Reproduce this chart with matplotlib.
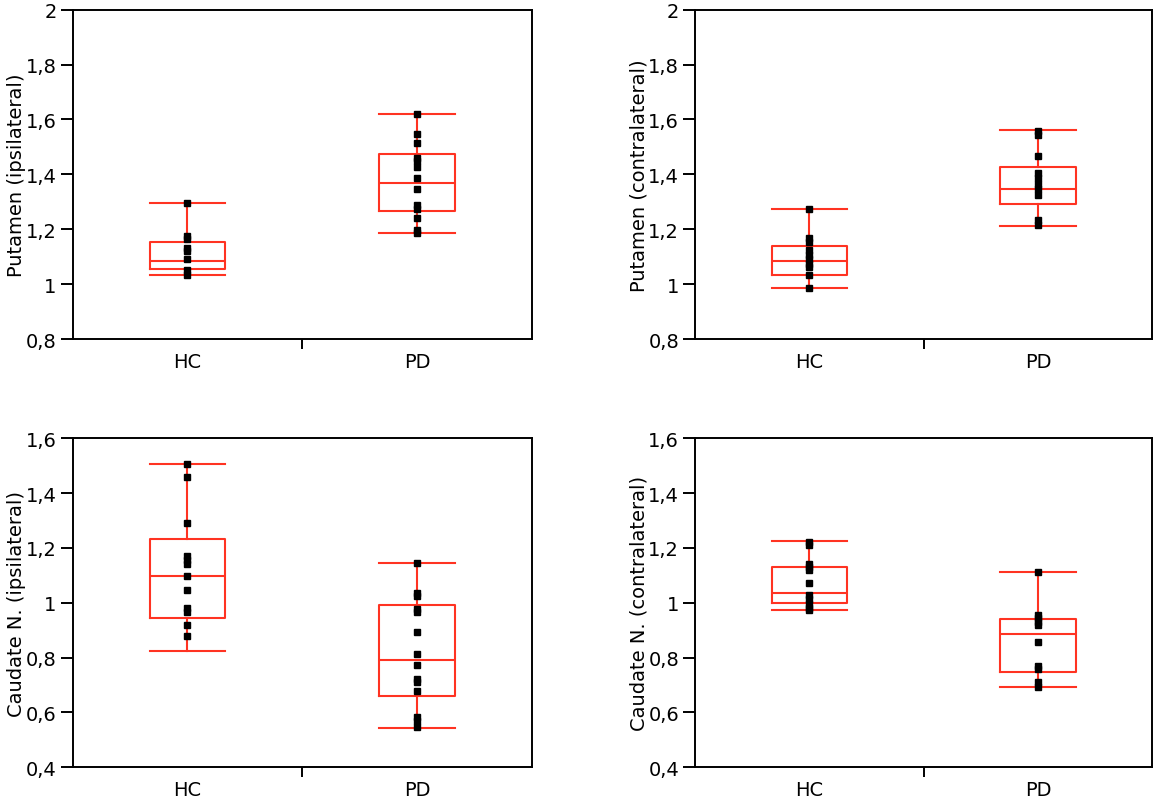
import matplotlib
matplotlib.use("Agg")
import matplotlib.pyplot as plt
from matplotlib.ticker import FuncFormatter

# Categories
groups = ["HC", "PD"]

# Box statistics per panel: (whisker low, q1, median, q3, whisker high)
put_ipsi_hc_box = [1.033, 1.055, 1.085, 1.152, 1.294]
put_ipsi_pd_box = [1.186, 1.267, 1.367, 1.474, 1.621]
put_contra_hc_box = [0.986, 1.034, 1.085, 1.140, 1.275]
put_contra_pd_box = [1.213, 1.293, 1.347, 1.427, 1.560]
cau_ipsi_hc_box = [0.826, 0.945, 1.098, 1.233, 1.505]
cau_ipsi_pd_box = [0.545, 0.659, 0.791, 0.991, 1.145]
cau_contra_hc_box = [0.973, 0.999, 1.034, 1.132, 1.225]
cau_contra_pd_box = [0.692, 0.746, 0.885, 0.940, 1.113]

# Individual subjects
put_ipsi_hc = [1.294, 1.175, 1.165, 1.130, 1.122, 1.090, 1.050, 1.033]
put_ipsi_pd = [1.621, 1.547, 1.514, 1.460, 1.450, 1.428, 1.387, 1.347,
               1.290, 1.275, 1.241, 1.196, 1.188]
put_contra_hc = [1.275, 1.168, 1.155, 1.125, 1.107, 1.090, 1.075, 1.062,
                 1.034, 0.986]
put_contra_pd = [1.558, 1.543, 1.467, 1.405, 1.385, 1.365, 1.345, 1.325,
                 1.233, 1.216]
cau_ipsi_hc = [1.505, 1.458, 1.292, 1.171, 1.156, 1.142, 1.098, 1.045,
               0.980, 0.966, 0.920, 0.879]
cau_ipsi_pd = [1.145, 1.037, 1.026, 0.977, 0.966, 0.892, 0.812, 0.772,
               0.722, 0.710, 0.680, 0.583, 0.569, 0.548]
cau_contra_hc = [1.223, 1.211, 1.140, 1.129, 1.120, 1.073, 1.029, 1.013,
                 0.997, 0.982, 0.972]
cau_contra_pd = [1.113, 0.956, 0.943, 0.931, 0.920, 0.856, 0.771, 0.760,
                 0.710, 0.693]

panels = [
    ("Putamen (ipsilateral)", put_ipsi_hc_box, put_ipsi_pd_box, put_ipsi_hc, put_ipsi_pd, (0.8, 2.0)),
    ("Putamen (contralateral)", put_contra_hc_box, put_contra_pd_box, put_contra_hc, put_contra_pd, (0.8, 2.0)),
    ("Caudate N. (ipsilateral)", cau_ipsi_hc_box, cau_ipsi_pd_box, cau_ipsi_hc, cau_ipsi_pd, (0.4, 1.6)),
    ("Caudate N. (contralateral)", cau_contra_hc_box, cau_contra_pd_box, cau_contra_hc, cau_contra_pd, (0.4, 1.6)),
]

red = "#ff3322"
plt.rcParams["font.family"] = ["DejaVu Sans"]

fig = plt.figure(figsize=(11.59, 8.04), dpi=100)
positions = [
    [0.0627, 0.5771, 0.396, 0.4096],
    [0.5997, 0.5771, 0.3946, 0.4096],
    [0.0627, 0.0444, 0.396, 0.4092],
    [0.5997, 0.0444, 0.3946, 0.4092],
]

comma = FuncFormatter(lambda v, p: f"{v:g}".replace(".", ","))

for pos, (label, hc_box, pd_box, hc_pts, pd_pts, ylim) in zip(positions, panels):
    ax = fig.add_axes(pos)
    stats = []
    for name, b in zip(groups, [hc_box, pd_box]):
        stats.append({"label": name, "whislo": b[0], "q1": b[1], "med": b[2],
                      "q3": b[3], "whishi": b[4], "fliers": []})
    line = dict(color=red, linewidth=1.5)
    ax.bxp(stats, positions=[1, 2], widths=0.33, capwidths=0.33,
           showfliers=False, boxprops=line, whiskerprops=line,
           capprops=line, medianprops=line, manage_ticks=False)
    for x, pts in zip([1, 2], [hc_pts, pd_pts]):
        ax.plot([x] * len(pts), pts, linestyle="none", marker="s",
                markersize=4.3, color="black", zorder=5)

    ax.set_xlim(0.5, 2.5)
    ax.set_ylim(*ylim)
    lo, hi = ylim
    ticks = [round(lo + 0.2 * i, 1) for i in range(7)]
    ax.set_yticks(ticks)
    ax.yaxis.set_major_formatter(comma)

    ax.set_xticks([1.5])
    ax.set_xticklabels([""])
    ax.set_xticks([1, 2], minor=True)
    ax.set_xticklabels(groups, minor=True)
    ax.tick_params(axis="x", which="major", direction="out", length=7.5, width=1.4)
    ax.tick_params(axis="x", which="minor", length=0, pad=9, labelsize=14)
    ax.tick_params(axis="y", direction="out", length=8.5, width=1.4,
                   labelsize=14, pad=3)

    for s in ax.spines.values():
        s.set_linewidth(1.4)

    ax.set_ylabel(label, fontsize=14)
    ax.yaxis.set_label_coords(-0.102, 0.5)

fig.savefig("out.png", dpi=100)
